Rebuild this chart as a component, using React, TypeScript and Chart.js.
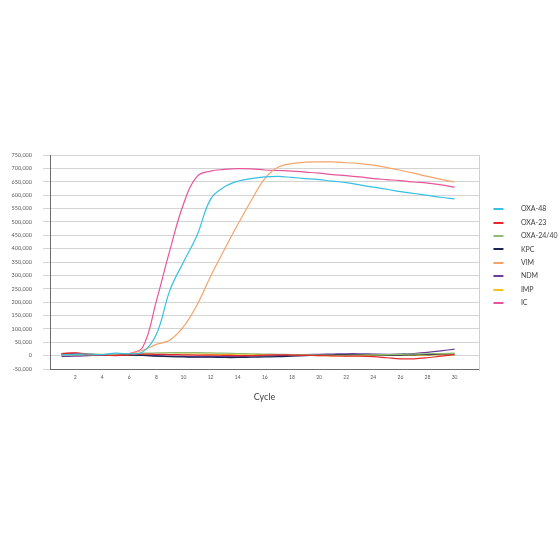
import React, { useEffect, useRef } from 'react';
import { Chart, registerables } from 'chart.js';

Chart.register(...registerables);

const cycles = [1, 2, 3, 4, 5, 6, 7, 8, 9, 10, 11, 12, 13, 14, 15, 16, 17, 18, 19, 20, 21, 22, 23, 24, 25, 26, 27, 28, 29, 30];
const xTickValues = [2, 4, 6, 8, 10, 12, 14, 16, 18, 20, 22, 24, 26, 28, 30];
const yTickValues = [-50000, 0, 50000, 100000, 150000, 200000, 250000, 300000, 350000, 400000, 450000, 500000, 550000, 600000, 650000, 700000, 750000];

const seriesNames = ['OXA-48', 'OXA-23', 'OXA-24/40', 'KPC', 'VIM', 'NDM', 'IMP', 'IC'];

const oxa48 = [3000, 5000, 6000, 4000, 9000, 7000, 14000, 80000, 245000, 350000, 450000, 585000, 630000, 652000, 662000, 668000, 670000, 666000, 662000, 658000, 652000, 647000, 638000, 630000, 622000, 613000, 606000, 599000, 592000, 586000];
const oxa23 = [8000, 10000, 6000, 2000, 0, 3000, 6000, 5000, 4000, 3000, 2000, 2000, 1000, 0, 0, 2000, 3000, 2000, 1000, 0, -1000, -2000, -2000, -4000, -8000, -12000, -12000, -8000, -2000, 4000];
const oxa2440 = [2000, 3000, 4000, 5000, 6000, 7000, 9000, 10000, 11000, 11000, 11000, 10000, 9000, 8000, 7000, 6000, 5000, 4000, 3000, 2000, 1000, 1000, 2000, 3000, 4000, 5000, 6000, 7000, 8000, 9000];
const kpc = [5000, 6000, 4000, 2000, 1000, 2000, 1000, -2000, -4000, -5000, -6000, -6000, -7000, -7000, -6000, -5000, -4000, -2000, 0, 2000, 3000, 4000, 4000, 3000, 2000, 2000, 3000, 4000, 6000, 6000];
const vim = [4000, 6000, 3000, 2000, 5000, 7000, 20000, 42000, 58000, 108000, 190000, 297000, 395000, 490000, 580000, 662000, 705000, 718000, 723000, 724000, 724000, 721000, 718000, 712000, 703000, 693000, 682000, 670000, 659000, 649000];
const ndm = [-3000, -2000, 0, 2000, 3000, 4000, 2000, 0, -2000, -3000, -4000, -4000, -4000, -3000, -2000, -1000, 0, 2000, 4000, 5000, 6000, 7000, 7000, 6000, 5000, 6000, 8000, 12000, 18000, 24000];
const imp = [3000, 4000, 5000, 4000, 3000, 2000, 3000, 4000, 5000, 6000, 6000, 5000, 4000, 3000, 3000, 4000, 3000, 2000, 1000, 0, -1000, -1000, 0, 1000, 2000, 2000, 1000, 2000, 3000, 3000];
const ic = [6000, 9000, 5000, 3000, 4000, 8000, 32000, 205000, 395000, 567000, 670000, 690000, 696000, 699000, 698000, 694000, 692000, 690000, 686000, 682000, 677000, 673000, 668000, 662000, 658000, 654000, 649000, 645000, 638000, 630000];

const seriesValues = [oxa48, oxa23, oxa2440, kpc, vim, ndm, imp, ic];
const seriesColors = ['#36c0e4', '#e8262b', '#8fbc72', '#1b2650', '#f4a46a', '#6a3d9a', '#f6c21c', '#e9559b'];

function makeSwatch(color: string): HTMLCanvasElement {
  const c = document.createElement('canvas');
  c.width = 32;
  c.height = 2;
  const g = c.getContext('2d')!;
  g.fillStyle = color;
  g.fillRect(8, 0, 10, 2);
  return c;
}

export default function App() {
  const ref = useRef<HTMLCanvasElement>(null);

  useEffect(() => {
    if (!ref.current) return;
    Chart.defaults.font.family = 'Lato, "Open Sans", sans-serif';

    const datasets = seriesNames.map((name, i) => ({
      label: name,
      data: cycles.map((c, j) => ({ x: c, y: seriesValues[i][j] })),
      borderColor: seriesColors[i],
      backgroundColor: seriesColors[i],
      borderWidth: 1.2,
      pointRadius: 0,
      pointHoverRadius: 0,
      pointStyle: makeSwatch(seriesColors[i]),
      tension: 0.4,
      fill: false,
    }));

    const framePlugin = {
      id: 'frame',
      beforeDatasetsDraw(chart: any) {
        const { ctx, chartArea } = chart;
        ctx.save();
        ctx.strokeStyle = '#d0d0d0';
        ctx.lineWidth = 1;
        ctx.beginPath();
        ctx.moveTo(Math.round(chartArea.right) + 0.5, chartArea.top);
        ctx.lineTo(Math.round(chartArea.right) + 0.5, chartArea.bottom + 2);
        ctx.stroke();
        ctx.restore();
      },
    };

    const legendShift = {
      id: 'legendShift',
      afterLayout(chart: any) {
        const lg = chart.legend;
        if (lg) {
          lg.top -= 6;
          lg.bottom -= 6;
        }
      },
    };

    const chart = new Chart(ref.current, {
      type: 'line',
      data: { datasets },
      plugins: [framePlugin, legendShift],
      options: {
        animation: false,
        responsive: true,
        maintainAspectRatio: false,
        layout: { padding: { top: 155, left: 0, right: 0, bottom: 157.6 } },
        plugins: {
          tooltip: { enabled: false },
          legend: {
            display: true,
            position: 'right',
            align: 'center',
            fullSize: false,
            maxWidth: 81,
            labels: {
              usePointStyle: true,
              pointStyleWidth: 32,
              padding: 6.4,
              color: '#404040',
              font: { size: 7 },
            },
          },
        },
        scales: {
          x: {
            type: 'linear',
            min: 0.15,
            max: 31.8,
            afterBuildTicks: (s: any) => {
              s.ticks = xTickValues.map((v) => ({ value: v }));
            },
            afterFit: (s: any) => {
              s.height = 33.4;
            },
            ticks: {
              autoSkip: false,
              maxRotation: 0,
              padding: 5,
              color: '#595959',
              font: { size: 5 },
              callback: (v: any) => String(v),
            },
            grid: { display: false, drawTicks: false },
            border: { display: true, color: '#6b6b6b', width: 1 },
            title: {
              display: true,
              text: 'Cycle',
              color: '#404040',
              font: { size: 9 },
              padding: { top: 0, bottom: 0 },
            },
          },
          y: {
            type: 'linear',
            min: -50000,
            max: 750000,
            afterBuildTicks: (s: any) => {
              s.ticks = yTickValues.map((v) => ({ value: v }));
            },
            afterFit: (s: any) => {
              s.width = 50;
            },
            ticks: {
              padding: 11,
              color: '#595959',
              font: { size: 5.5 },
              callback: (v: any) => Number(v).toLocaleString('en-US'),
            },
            grid: { color: '#d4d4d4', lineWidth: 1, tickLength: 7, drawTicks: true },
            border: { display: true, color: '#6b6b6b', width: 1 },
          },
        },
      },
    } as any);

    return () => chart.destroy();
  }, []);

  return (
    <div style={{ position: 'absolute', left: 0, top: 0, width: 560, height: 560, background: '#fff' }}>
      <canvas ref={ref} />
    </div>
  );
}
